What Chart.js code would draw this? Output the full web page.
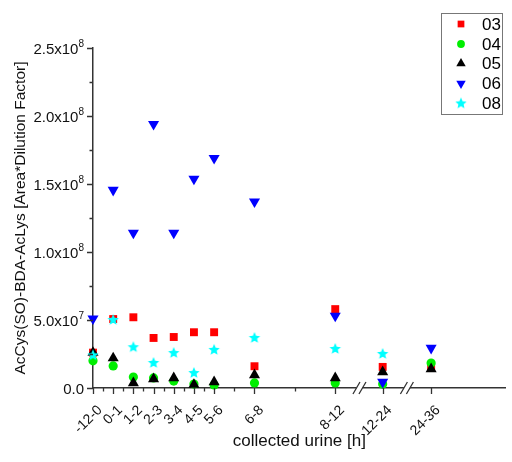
<!DOCTYPE html>
<html>
<head>
<meta charset="utf-8">
<script src="https://cdn.jsdelivr.net/npm/chart.js@4.4.0/dist/chart.umd.min.js"></script>
<style>
  body { margin: 0; background: #fff; }
  #wrap { width: 512px; height: 462px; }
</style>
</head>
<body>
<div id="wrap"><canvas id="chart" width="512" height="462"></canvas></div>
<script>
//collection windows and where they sit on the (broken) x axis
const categories = ["-12-0", "0-1", "1-2", "2-3", "3-4", "4-5", "5-6", "6-8", "8-12", "12-24", "24-36"];
const xPositions = [0, 1, 2, 3, 4, 5, 6, 8, 12, 14.35, 16.75];
const xMinorTicks = [0.5, 1.5, 2.5, 3.5, 4.5, 5.5, 7, 10];
const xBreaks = [13.2, 15.55];

//series
const s03 = [2.6e7, 5.07e7, 5.2e7, 3.68e7, 3.75e7, 4.1e7, 4.1e7, 1.6e7, 5.8e7, 1.55e7, 1.47e7];
const s04 = [2.0e7, 1.62e7, 8.1e6, 7.4e6, 5.1e6, 2.9e6, 2.2e6, 3.7e6, 3.7e6, 2.9e6, 1.84e7];
const s05 = [2.6e7, 2.2e7, 3.7e6, 6.6e6, 7.4e6, 2.5e6, 4.4e6, 9.6e6, 7.4e6, 1.18e7, 1.4e7];
const s06 = [5.1e7, 1.456e8, 1.14e8, 1.94e8, 1.14e8, 1.537e8, 1.69e8, 1.37e8, 5.3e7, 4.4e6, 2.94e7];
const s08 = [2.4e7, 5.0e7, 3.0e7, 1.84e7, 2.57e7, 1.1e7, 2.8e7, 3.68e7, 2.87e7, 2.5e7, null];

//y ticks: value, mantissa text, exponent (drawn as superscript)
const yMajorTicks = [0, 5e7, 1e8, 1.5e8, 2e8, 2.5e8];
const yMinorTicks = [2.5e7, 7.5e7, 1.25e8, 1.75e8, 2.25e8];
const yTickMantissa = ["0.0", "5.0x10", "1.0x10", "1.5x10", "2.0x10", "2.5x10"];
const yTickExponent = ["", "7", "8", "8", "8", "8"];

const FONT = "'Liberation Sans', Arial, sans-serif";
const AXIS = "#333";
const TEXT = "#111";
const LEFT = 93;

//filled 5 point star, chart.js only has an asterisk one
function makeStar(colour, r) {
  const c = document.createElement("canvas");
  const size = Math.ceil(r * 2) + 2;
  c.width = size; c.height = size;
  const g = c.getContext("2d");
  g.beginPath();
  for (let i = 0; i < 10; i++) {
    const rad = i % 2 === 0 ? r : r * 0.45;
    const a = -Math.PI / 2 + i * Math.PI / 5;
    g.lineTo(size / 2 + rad * Math.cos(a), size / 2 + rad * Math.sin(a));
  }
  g.closePath();
  g.fillStyle = colour;
  g.fill();
  return c;
}

function toPoints(values) {
  return values.map((v, i) => ({ x: xPositions[i], y: v }));
}

function series(label, values, colour, style, radius, rotation, order) {
  return {
    label, data: toPoints(values),
    backgroundColor: colour, borderColor: colour, borderWidth: 0,
    pointStyle: style, pointRadius: radius, pointRotation: rotation,
    pointHoverRadius: radius, showLine: false, order, clip: false,
  };
}

const datasets = [
  series("03", s03, "#ff0000", "rect", 5.6, 0, 4),
  series("04", s04, "#00ee00", "circle", 4.6, 0, 3),
  series("05", s05, "#000000", "triangle", 6.4, 0, 2),
  series("06", s06, "#0000ff", "triangle", 6.4, 180, 1),
  series("08", s08, "#00ffff", makeStar("#00ffff", 6), 6, 0, 0),
];

//tick marks, y labels with superscripts, axis breaks and the boxed legend
const extras = {
  id: "extras",
  afterDraw(chart) {
    const ctx = chart.ctx;
    const xs = chart.scales.x, ys = chart.scales.y;
    const area = chart.chartArea;
    ctx.save();
    ctx.strokeStyle = AXIS;
    ctx.lineWidth = 1.3;
    ctx.beginPath();
    xPositions.forEach(v => {
      const px = Math.round(xs.getPixelForValue(v)) + 0.5;
      ctx.moveTo(px, area.bottom); ctx.lineTo(px, area.bottom + 6);
    });
    xMinorTicks.forEach(v => {
      const px = Math.round(xs.getPixelForValue(v)) + 0.5;
      ctx.moveTo(px, area.bottom); ctx.lineTo(px, area.bottom + 3.5);
    });
    yMajorTicks.forEach(v => {
      const py = Math.round(ys.getPixelForValue(v)) + 0.5;
      ctx.moveTo(area.left, py); ctx.lineTo(area.left - 6, py);
    });
    yMinorTicks.forEach(v => {
      const py = Math.round(ys.getPixelForValue(v)) + 0.5;
      ctx.moveTo(area.left, py); ctx.lineTo(area.left - 3.5, py);
    });
    ctx.stroke();

    //y labels like 2.5x10^8
    ctx.fillStyle = TEXT;
    ctx.textBaseline = "alphabetic";
    ctx.textAlign = "right";
    yMajorTicks.forEach((v, i) => {
      const py = ys.getPixelForValue(v);
      let right = area.left - 9;
      if (yTickExponent[i]) {
        ctx.font = "10px " + FONT;
        ctx.fillText(yTickExponent[i], right, py - 1);
        right -= ctx.measureText(yTickExponent[i]).width;
      }
      ctx.font = "15px " + FONT;
      ctx.fillText(yTickMantissa[i], right, py + 5.5);
    });
    ctx.textAlign = "left";

    //the // marks on the x axis
    xBreaks.forEach(v => {
      const px = xs.getPixelForValue(v);
      ctx.fillStyle = "#fff";
      ctx.fillRect(px - 3, area.bottom - 2, 6, 4);
      ctx.beginPath();
      [-3, 3].forEach(d => {
        ctx.moveTo(px + d - 3.5, area.bottom + 6);
        ctx.lineTo(px + d + 3.5, area.bottom - 6);
      });
      ctx.stroke();
    });

    //legend box
    ctx.strokeStyle = "#777";
    ctx.lineWidth = 1;
    ctx.strokeRect(441.5, 13.5, 61, 101);
    ctx.font = "17px " + FONT;
    ctx.textBaseline = "middle";
    const rowY = [24, 44, 63.5, 83.5, 103.5];
    datasets.forEach((ds, i) => {
      ctx.fillStyle = ds.backgroundColor;
      Chart.helpers.drawPoint(ctx, {
        pointStyle: ds.pointStyle, radius: ds.pointRadius * 0.85,
        rotation: ds.pointRotation, borderWidth: 0,
      }, 461, rowY[i]);
      ctx.fillStyle = "#000";
      ctx.fillText(ds.label, 482, rowY[i] + 1);
    });
    ctx.restore();
  }
};

new Chart(document.getElementById("chart"), {
  type: "scatter",
  data: { datasets },
  options: {
    responsive: false,
    animation: false,
    devicePixelRatio: 1,
    layout: { padding: { top: 48, right: 0, bottom: 0, left: 0 } },
    plugins: { legend: { display: false }, tooltip: { enabled: false } },
    scales: {
      x: {
        type: "linear",
        min: 0,
        max: (512 - LEFT) / 20.5,
        afterBuildTicks: s => { s.ticks = xPositions.map(v => ({ value: v })); },
        afterFit: s => { s.height = 74; },
        grid: { display: false, drawTicks: false },
        border: { color: AXIS, width: 1.5 },
        ticks: {
          autoSkip: false, minRotation: 45, maxRotation: 45,
          padding: 14, labelOffset: 7, color: TEXT,
          font: { family: FONT, size: 14 },
          callback: v => { const i = xPositions.indexOf(v); return i >= 0 ? categories[i] : ""; },
        },
        title: {
          display: true, text: "collected urine [h]", color: TEXT,
          font: { family: FONT, size: 17 }, padding: { top: 0, bottom: 10 },
        },
      },
      y: {
        min: 0,
        max: 2.5e8,
        afterBuildTicks: s => { s.ticks = yMajorTicks.map(v => ({ value: v })); },
        afterFit: s => { s.width = LEFT; },
        grid: { display: false, drawTicks: false },
        border: { color: AXIS, width: 1.5 },
        ticks: { display: false },
        title: {
          display: true, text: "AcCys(SO)-BDA-AcLys [Area*Dilution Factor]", color: TEXT,
          font: { family: FONT, size: 15.5 }, padding: { top: 11, bottom: 0 },
        },
      },
    },
  },
  plugins: [extras],
});
</script>
</body>
</html>
